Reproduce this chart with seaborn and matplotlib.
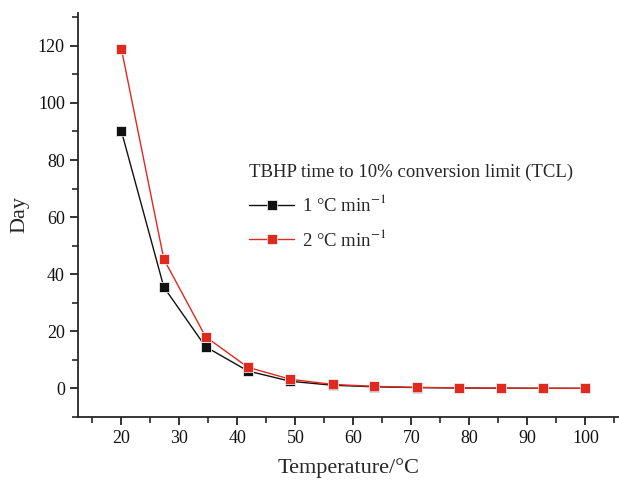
import pandas as pd
import matplotlib
matplotlib.use('Agg')
import matplotlib.pyplot as plt
import seaborn as sns
from matplotlib.ticker import MultipleLocator

# Values
temperature = [20, 27.3, 34.5, 41.8, 49.1, 56.4, 63.6, 70.9, 78.2, 85.5, 92.7, 100]
days_1 = [90, 35.5, 14.6, 6.1, 2.5, 1.1, 0.55, 0.28, 0.14, 0.07, 0.03, 0.02]
days_2 = [118.8, 45.3, 18.1, 7.4, 3.2, 1.4, 0.7, 0.35, 0.17, 0.08, 0.04, 0.02]
series_names = ['1 °C min$^{-1}$', '2 °C min$^{-1}$']

df = pd.DataFrame({
    'Temperature': temperature * 2,
    'Day': days_1 + days_2,
    'Rate': [series_names[0]] * len(days_1) + [series_names[1]] * len(days_2),
})

sns.set_style('ticks')
plt.rcParams['font.family'] = ['Liberation Serif', 'DejaVu Serif']
plt.rcParams['mathtext.fontset'] = 'stix'

fig = plt.figure(figsize=(6.19, 4.82), dpi=100)
ax = fig.add_axes([0.126, 0.135, 0.874, 0.838])

palette = {series_names[0]: '#111111', series_names[1]: '#e0291f'}
sns.lineplot(data=df, x='Temperature', y='Day', hue='Rate', style='Rate',
             markers=['s', 's'], dashes=False, palette=palette, linewidth=1,
             markersize=7, markeredgewidth=0.5, ax=ax)

ax.set_xlim(12.5, 105.8)
ax.set_ylim(-10, 131.5)
ax.xaxis.set_major_locator(MultipleLocator(10))
ax.xaxis.set_minor_locator(MultipleLocator(5))
ax.yaxis.set_major_locator(MultipleLocator(20))
ax.yaxis.set_minor_locator(MultipleLocator(10))
ax.set_yticks(range(0, 121, 20))
ax.tick_params(which='major', direction='out', length=6, width=1.2, labelsize=13, colors='#111111')
ax.tick_params(which='minor', direction='out', length=4, width=1.2)
for s in ['left', 'bottom']:
    ax.spines[s].set_linewidth(1.3)
sns.despine(ax=ax)

ax.set_xlabel('Temperature/°C', fontsize=16, labelpad=8)
ax.set_ylabel('Day', fontsize=16, labelpad=6)

leg = ax.legend(title='TBHP time to 10% conversion limit (TCL)', frameon=False,
                loc='upper left', bbox_to_anchor=(0.285, 0.668), fontsize=13.5,
                title_fontsize=13.5, handlelength=2.4, handletextpad=0.4,
                labelspacing=0.7)
leg._legend_box.align = 'left'

fig.savefig('out.png', dpi=100)
